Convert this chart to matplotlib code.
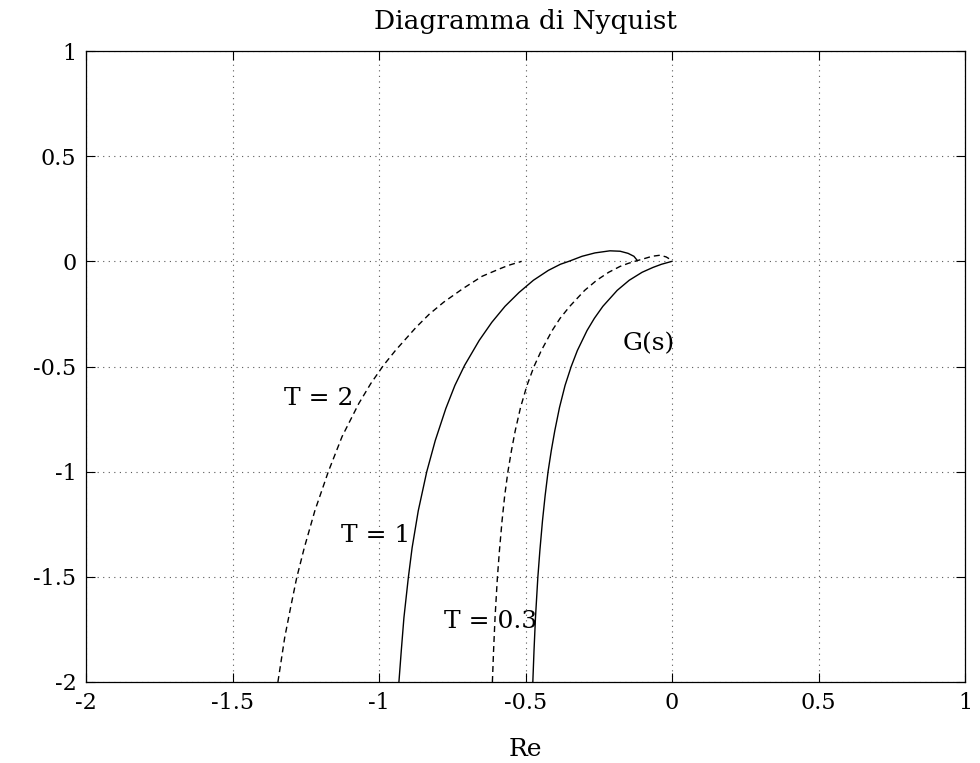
import matplotlib
matplotlib.use("Agg")
import matplotlib.pyplot as plt

g_re = [0.0, -0.036, -0.065, -0.102, -0.146, -0.187, -0.236, -0.265, -0.290, -0.323,
        -0.344, -0.365, -0.384, -0.400, -0.412, -0.423, -0.433, -0.442, -0.451, -0.458,
        -0.466, -0.471, -0.475]
g_im = [0.0, -0.014, -0.029, -0.052, -0.090, -0.138, -0.214, -0.271, -0.329, -0.424,
        -0.500, -0.590, -0.695, -0.805, -0.900, -1.000, -1.114, -1.233, -1.376, -1.505,
        -1.695, -1.852, -2.000]

t03_re = [-0.613, -0.609, -0.604, -0.596, -0.589, -0.580, -0.571, -0.560, -0.548, -0.535,
          -0.517, -0.495, -0.471, -0.446, -0.409, -0.382, -0.349, -0.298, -0.257, -0.216,
          -0.177, -0.150, -0.127, -0.092, -0.068, -0.041, -0.020, -0.007, 0.0]
t03_im = [-2.000, -1.852, -1.695, -1.505, -1.376, -1.233, -1.114, -1.000, -0.900, -0.805,
          -0.695, -0.590, -0.500, -0.424, -0.329, -0.271, -0.214, -0.138, -0.090, -0.052,
          -0.024, -0.010, 0.000, 0.014, 0.024, 0.029, 0.021, 0.010, 0.0]

t1_re = [-0.932, -0.924, -0.915, -0.900, -0.887, -0.866, -0.837, -0.808, -0.772, -0.741,
         -0.708, -0.658, -0.615, -0.570, -0.522, -0.473, -0.422, -0.381, -0.352, -0.307,
         -0.263, -0.212, -0.177, -0.150, -0.130, -0.119]
t1_im = [-2.000, -1.852, -1.695, -1.505, -1.362, -1.186, -1.000, -0.852, -0.700, -0.590,
         -0.495, -0.376, -0.290, -0.214, -0.148, -0.090, -0.043, -0.014, 0.000, 0.024,
         0.040, 0.050, 0.048, 0.038, 0.024, 0.005]

t2_re = [-1.345, -1.334, -1.322, -1.302, -1.281, -1.255, -1.219, -1.173, -1.126, -1.069,
         -1.028, -0.985, -0.944, -0.873, -0.829, -0.779, -0.713, -0.648, -0.587, -0.558,
         -0.513]
t2_im = [-2.000, -1.900, -1.790, -1.648, -1.505, -1.362, -1.186, -1.000, -0.833, -0.676,
         -0.581, -0.495, -0.424, -0.313, -0.252, -0.194, -0.129, -0.071, -0.035, -0.019,
         0.000]

labels = ["G(s)", "T = 0.3", "T = 1", "T = 2"]
label_re = [-0.078, -0.619, -1.011, -1.206]
label_im = [-0.392, -1.710, -1.305, -0.652]

ticks = [-2, -1.5, -1, -0.5, 0, 0.5, 1]
tick_text = ["-2", "-1.5", "-1", "-0.5", "0", "0.5", "1"]

plt.rcParams["font.family"] = ["DejaVu Serif"]

fig = plt.figure(figsize=(9.8, 7.63), dpi=100)
left, right, top, bottom = 86, 965, 51, 682
ax = fig.add_axes([left / 980, 1 - bottom / 763, (right - left) / 980, (bottom - top) / 763])

dash = dict(ls=(0, (4.3, 2.9)))
ax.plot(g_re, g_im, color="black", lw=1.0)
ax.plot(t03_re, t03_im, color="black", lw=1.0, **dash)
ax.plot(t1_re, t1_im, color="black", lw=1.0)
ax.plot(t2_re, t2_im, color="black", lw=1.0, **dash)

for txt, x, y in zip(labels, label_re, label_im):
    ax.text(x, y, txt, fontsize=18, ha="center", va="center")

ax.set_xlim(-2, 1)
ax.set_ylim(-2, 1)
ax.set_xticks(ticks)
ax.set_yticks(ticks)
ax.set_xticklabels(tick_text)
ax.set_yticklabels(tick_text)
ax.tick_params(direction="in", length=6.5, width=0.8, labelsize=16,
               top=True, right=True, pad=7)
ax.grid(True, color="0.35", lw=0.8, ls=(0, (1, 4)))
for sp in ax.spines.values():
    sp.set_linewidth(0.9)

fig.text((left + right) / 2 / 980, 1 - 22 / 763, "Diagramma di Nyquist",
         fontsize=19, ha="center", va="center")
ax.set_xlabel("Re", fontsize=18, va="center")
ax.xaxis.set_label_coords(0.5, -(750 - bottom) / (bottom - top))

fig.savefig("out.png", dpi=100)
